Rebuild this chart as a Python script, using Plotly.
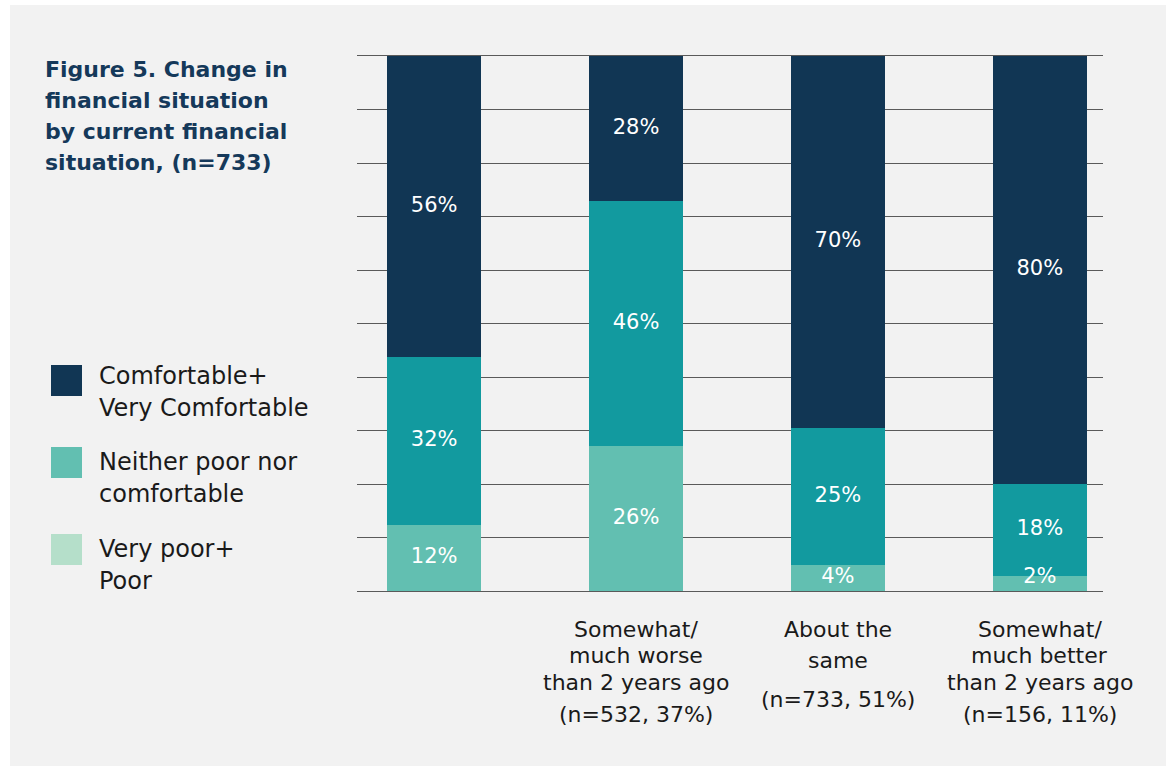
import plotly.graph_objects as go

# ---- data ----
categories = ["c0", "c1", "c2", "c3"]
category_labels = ["", "Somewhat/<br>much worse<br>than 2 years ago",
                   "About the<br>same", "Somewhat/<br>much better<br>than 2 years ago"]
category_n = ["", "(n=532, 37%)", "(n=733, 51%)", "(n=156, 11%)"]
series_names = ["Very poor+<br>Poor", "Neither poor nor<br>comfortable",
                "Comfortable+<br>Very Comfortable"]
# bar heights (percent of respondents)
poor = [12.3, 27.1, 4.9, 2.8]
neither = [31.4, 45.8, 25.6, 17.2]
comfortable = [56.3, 27.1, 69.5, 80.0]
# printed labels
poor_labels = ["12%", "26%", "4%", "2%"]
neither_labels = ["32%", "46%", "25%", "18%"]
comfortable_labels = ["56%", "28%", "70%", "80%"]
title_text = "Figure 5. Change in<br>financial situation<br>by current financial<br>situation, (n=733)"
y_ticks = [0, 10, 20, 30, 40, 50, 60, 70, 80, 90, 100]

bar_colors = ["#62bfb1", "#129a9f", "#113654"]
legend_colors = ["#b5dfca", "#62bfb1", "#113654"]

FONT = "DejaVu Sans"
TEXT_COLOR = "#1a1a1a"
GRID = "#5a5a5a"
W, H = 1166, 766
ML, MR, MT, MB = 357, 63, 56, 175
PW, PH = W - ML - MR, H - MT - MB


def px_x(x):
    return (x - ML) / PW


def px_y(y):
    return (H - MB - y) / PH


annotations = []


def add_lines(text, x, xref, xanchor, first_baseline, spacing, size, color, bold=False):
    for k, line in enumerate(text.split("<br>")):
        base = first_baseline + k * spacing
        t = f"<b>{line}</b>" if bold else line
        annotations.append(dict(
            xref=xref, yref="paper", x=x, y=px_y(base - 0.36 * size),
            xanchor=xanchor, yanchor="middle", text=t, showarrow=False,
            font=dict(family=FONT, size=size, color=color),
        ))


fig = go.Figure()
series_vals = [poor, neither, comfortable]
series_labs = [poor_labels, neither_labels, comfortable_labels]
for name, vals, col in zip(series_names, series_vals, bar_colors):
    fig.add_trace(go.Bar(
        x=categories, y=vals, name=name, marker=dict(color=col, line=dict(width=0)),
        width=0.467, showlegend=False, hoverinfo="skip",
    ))

# segment labels, placed at the middle of each stacked segment
lab_x, lab_y, lab_t = [], [], []
base = [0.0] * len(categories)
for vals, labs in zip(series_vals, series_labs):
    for j, (v, t) in enumerate(zip(vals, labs)):
        mid = base[j] + v / 2
        lab_x.append(categories[j])
        lab_y.append(max(mid, 2.5))
        lab_t.append(t)
        base[j] += v
fig.add_trace(go.Scatter(
    x=lab_x, y=lab_y, text=lab_t, mode="text", cliponaxis=False,
    textfont=dict(color="white", size=21, family=FONT), showlegend=False, hoverinfo="skip",
))

shapes = [
    dict(type="rect", xref="paper", yref="paper", x0=px_x(10), x1=px_x(W + 5),
         y0=px_y(5), y1=px_y(H + 5), fillcolor="#f2f2f2", line=dict(width=0), layer="below"),
]

# title
add_lines(title_text, px_x(43), "paper", "left", 77, 31, 22, "#15395a", bold=True)

# legend (manual, order top to bottom)
leg_tops = [365, 447, 534]
leg_baselines = [385, 471, 558]
for i, idx in enumerate([2, 1, 0]):
    t = leg_tops[i]
    shapes.append(dict(type="rect", xref="paper", yref="paper",
                       x0=px_x(51), x1=px_x(82), y0=px_y(t), y1=px_y(t + 31),
                       fillcolor=legend_colors[idx], line=dict(width=0)))
    add_lines(series_names[idx], px_x(97), "paper", "left", leg_baselines[i], 32, 24, TEXT_COLOR)

# category labels
for cat, lab, n in zip(categories, category_labels, category_n):
    if not lab:
        continue
    nlines = lab.count("<br>") + 1
    if nlines == 3:
        add_lines(lab, cat, "x", "center", 637, 26.5, 22, TEXT_COLOR)
        add_lines(n, cat, "x", "center", 722, 0, 22, TEXT_COLOR)
    else:
        add_lines(lab, cat, "x", "center", 637, 31, 22, TEXT_COLOR)
        add_lines(n, cat, "x", "center", 707, 0, 22, TEXT_COLOR)

fig.update_layout(
    width=W, height=H, barmode="stack",
    margin=dict(l=ML, r=MR, t=MT, b=MB, pad=0),
    paper_bgcolor="white", plot_bgcolor="rgba(0,0,0,0)",
    font=dict(family=FONT),
    shapes=shapes, annotations=annotations,
    xaxis=dict(range=[-0.382, 3.313], showticklabels=False, showgrid=False, zeroline=False,
               showline=True, mirror=True, linecolor=GRID, linewidth=1, ticks="",
               layer="below traces"),
    yaxis=dict(range=[0, 100], tickvals=y_ticks, showticklabels=False, showgrid=True,
               gridcolor=GRID, gridwidth=1, zeroline=False, showline=False, ticks=""),
)

fig.write_html("out.html")
